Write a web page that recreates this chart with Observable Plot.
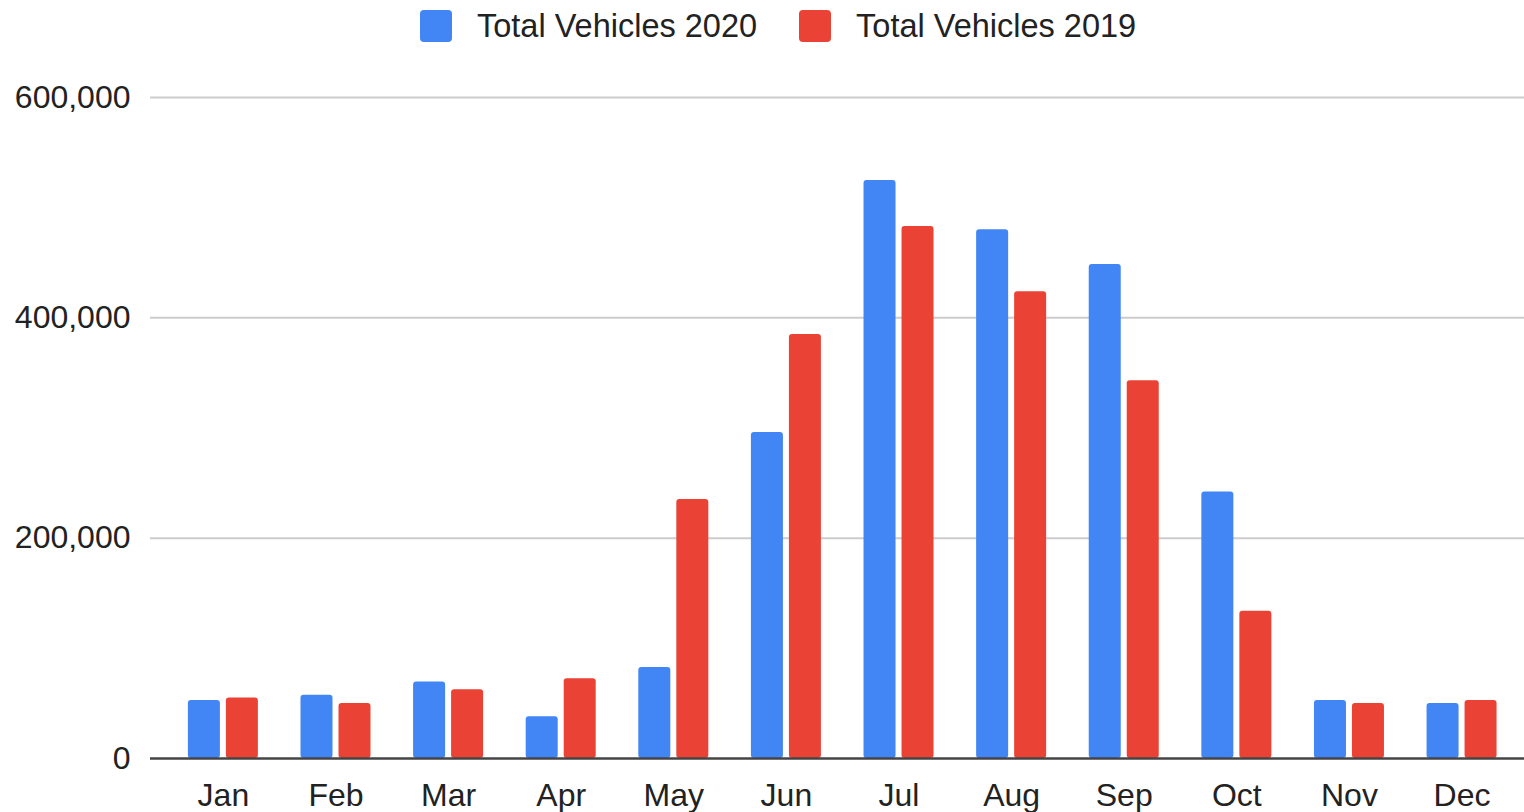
<!DOCTYPE html>
<html>
<head>
<meta charset="utf-8">
<script src="https://cdn.jsdelivr.net/npm/d3@7"></script>
<script src="https://cdn.jsdelivr.net/npm/@observablehq/plot@0.6"></script>
<style>
  html, body { margin: 0; padding: 0; background: #fff; }
  body { width: 1524px; height: 812px; overflow: hidden; font-family: "Liberation Sans", Arial, sans-serif; }
  #legend { height: 50px; display: flex; align-items: flex-start; padding-left: 420px; box-sizing: border-box; }
  .item { display: flex; align-items: center; height: 52px; margin-right: 42px; }
  .sw { width: 32px; height: 32px; border-radius: 4px; margin-right: 25px; }
  .lbl { font-size: 32.5px; color: #222; line-height: 52px; }
  #chart svg { display: block; }
</style>
</head>
<body>
<div id="legend"></div>
<div id="chart"></div>
<script>
const months = ["Jan","Feb","Mar","Apr","May","Jun","Jul","Aug","Sep","Oct","Nov","Dec"];
const vehicles2020 = [52600, 57500, 69500, 37800, 82600, 296000, 524700, 480000, 448400, 242000, 52600, 50000];
const vehicles2019 = [55000, 50000, 62300, 72300, 235100, 384900, 483000, 423600, 342800, 133700, 50000, 52600];
const seriesNames = ["Total Vehicles 2020", "Total Vehicles 2019"];
const seriesColors = ["#4285F4", "#EA4335"];
const yTicks = [0, 200000, 400000, 600000];

const rows2020 = months.map((m, i) => ({month: m, value: vehicles2020[i]}));
const rows2019 = months.map((m, i) => ({month: m, value: vehicles2019[i]}));

// legend
const legend = document.getElementById("legend");
seriesNames.forEach((name, i) => {
  const item = document.createElement("div");
  item.className = "item";
  const sw = document.createElement("div");
  sw.className = "sw";
  sw.style.background = seriesColors[i];
  const lbl = document.createElement("span");
  lbl.className = "lbl";
  lbl.textContent = name;
  item.appendChild(sw);
  item.appendChild(lbl);
  legend.appendChild(item);
});

const barInset = 38;

const chart = Plot.plot({
  width: 1524,
  height: 762,
  marginLeft: 150,
  marginRight: 0,
  marginTop: 47,
  marginBottom: 54,
  style: {fontFamily: "'Liberation Sans', Arial, sans-serif", fontSize: "32px", color: "#222", background: "#fff"},
  x: {domain: months, paddingInner: 0.3783, paddingOuter: 0.29, align: 0.58, round: false, label: null},
  y: {domain: [0, 600000], label: null},
  marks: [
    Plot.ruleY(yTicks.filter(d => d > 0), {stroke: "#cccccc", strokeWidth: 2}),
    Plot.barY(rows2020, {x: "month", y: "value", fill: seriesColors[0], insetRight: barInset, rx: 3}),
    Plot.barY(rows2019, {x: "month", y: "value", fill: seriesColors[1], insetLeft: barInset, rx: 3}),
    Plot.ruleY([0], {stroke: "#444", strokeWidth: 2.5}),
    Plot.axisY({ticks: yTicks, tickSize: 0, tickPadding: 20, tickFormat: d3.format(","), fontSize: 32, fill: "#222", label: null}),
    Plot.axisX({tickSize: 0, tickPadding: 25, fontSize: 32, fill: "#222", label: null})
  ]
});
document.getElementById("chart").appendChild(chart);
</script>
</body>
</html>
